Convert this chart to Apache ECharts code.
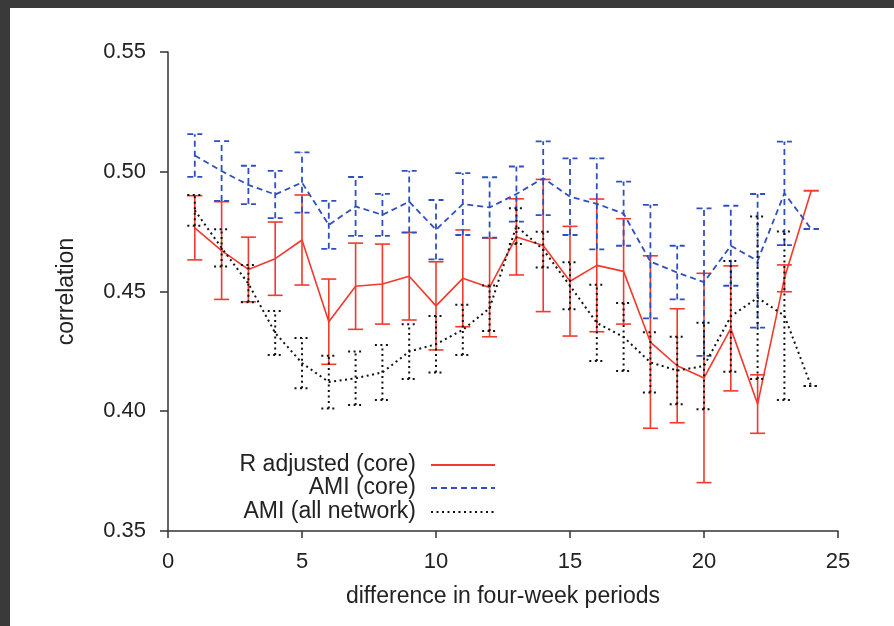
<!DOCTYPE html>
<html>
<head>
<meta charset="utf-8">
<script src="https://cdn.jsdelivr.net/npm/echarts@6/dist/echarts.min.js"></script>
<style>
  html, body { margin: 0; padding: 0; background: #3a3a3a; width: 894px; height: 626px; overflow: hidden; }
  #c { position: absolute; left: 10px; top: 8px; width: 884px; height: 618px; background: #fff; }
</style>
</head>
<body>
<div id="c"></div>
<script>
const periods = [1,2,3,4,5,6,7,8,9,10,11,12,13,14,15,16,17,18,19,20,21,22,23,24];

const rAdjMean = [0.4766,0.4671,0.4592,0.4637,0.4715,0.4374,0.4522,0.4531,0.4564,0.4440,0.4555,0.4517,
                  0.4728,0.4692,0.4543,0.4609,0.4584,0.4289,0.4190,0.4139,0.4346,0.4030,0.4555,0.4921];
const rAdjErr  = [0.0134,0.0204,0.0135,0.0153,0.0188,0.0178,0.0180,0.0167,0.0183,0.0184,0.0202,0.0206,
                  0.0159,0.0276,0.0229,0.0277,0.0220,0.0360,0.0238,0.0437,0.0261,0.0122,0.0056,0.0];

const amiCoreMean = [0.5068,0.5003,0.4945,0.4905,0.4955,0.4778,0.4855,0.4820,0.4875,0.4758,0.4865,0.4851,
                     0.4907,0.4973,0.4896,0.4866,0.4825,0.4625,0.4579,0.4539,0.4691,0.4628,0.4910,0.4761];
const amiCoreErr  = [0.0089,0.0125,0.0080,0.0099,0.0126,0.0100,0.0123,0.0088,0.0129,0.0124,0.0129,0.0126,
                     0.0115,0.0154,0.0160,0.0190,0.0134,0.0237,0.0112,0.0308,0.0167,0.0279,0.0216,0.0];

const amiAllMean = [0.4839,0.4682,0.4533,0.4327,0.4201,0.4122,0.4138,0.4162,0.4249,0.4280,0.4340,0.4430,
                    0.4773,0.4675,0.4524,0.4369,0.4310,0.4204,0.4170,0.4189,0.4396,0.4474,0.4399,0.4105];
const amiAllErr  = [0.0064,0.0078,0.0078,0.0092,0.0105,0.0110,0.0112,0.0115,0.0114,0.0118,0.0105,0.0095,
                    0.0075,0.0075,0.0098,0.0159,0.0142,0.0126,0.0141,0.0181,0.0231,0.0339,0.0352,0.0];

const seriesNames = ['R adjusted (core)', 'AMI (core)', 'AMI (all network)'];
const yTicks = { min: 0.35, max: 0.55, step: 0.05 };
const xTicks = { min: 0, max: 25, step: 5 };

const FONT = '"Liberation Sans", Arial, Helvetica, sans-serif';
const RED = '#f2392c', BLUE = '#2f4fc0', BLACK = '#111111';

function lineData(mean) { return periods.map((p, i) => [p, mean[i]]); }
function errData(mean, err) { return periods.map((p, i) => [p, mean[i] - err[i], mean[i] + err[i]]); }

function errRender(color, dash, width) {
  return function (params, api) {
    const x = api.value(0);
    const lo = api.coord([x, api.value(1)]);
    const hi = api.coord([x, api.value(2)]);
    const hw = 7.5;
    const style = { stroke: color, lineWidth: width, lineDash: dash, fill: null };
    return {
      type: 'group',
      children: [
        { type: 'line', shape: { x1: lo[0], y1: lo[1], x2: hi[0], y2: hi[1] }, style: style },
        { type: 'line', shape: { x1: lo[0] - hw, y1: lo[1], x2: lo[0] + hw, y2: lo[1] }, style: style },
        { type: 'line', shape: { x1: hi[0] - hw, y1: hi[1], x2: hi[0] + hw, y2: hi[1] }, style: style }
      ]
    };
  };
}

const styles = [
  { color: RED, dash: null, width: 1.6, type: 'solid' },
  { color: BLUE, dash: [6, 4], width: 1.8, type: [6, 4] },
  { color: BLACK, dash: [2, 3.5], width: 2, type: [2, 3.5] }
];
const means = [rAdjMean, amiCoreMean, amiAllMean];
const errs = [rAdjErr, amiCoreErr, amiAllErr];

const series = [];
for (let k = 0; k < 3; k++) {
  series.push({
    name: seriesNames[k] + ' err',
    type: 'custom',
    renderItem: errRender(styles[k].color, styles[k].dash, styles[k].width),
    data: errData(means[k], errs[k]),
    encode: { x: 0, y: [1, 2] },
    z: 2 + k,
    silent: true
  });
  series.push({
    name: seriesNames[k],
    type: 'line',
    data: lineData(means[k]),
    symbol: 'none',
    color: styles[k].color,
    lineStyle: { color: styles[k].color, width: styles[k].width, type: styles[k].type },
    z: 2 + k,
    silent: true,
    animation: false
  });
}

const legendCenters = [457, 480, 504];
const legends = seriesNames.map((n, k) => ({
  data: [n],
  orient: 'vertical',
  align: 'right',
  right: 398,
  top: legendCenters[k] - 12,
  padding: 0,
  itemWidth: 64,
  itemHeight: 10,
  selectedMode: false,
  itemStyle: { opacity: 0 },
  textStyle: { fontFamily: FONT, fontSize: 23, color: '#222', lineHeight: 24, padding: [0, 10, 0, 0] }
}));

const chart = echarts.init(document.getElementById('c'), null, { renderer: 'canvas' });
chart.setOption({
  animation: false,
  backgroundColor: '#ffffff',
  grid: { left: 158, top: 44, right: 56, bottom: 95 },
  legend: legends,
  xAxis: {
    type: 'value',
    min: xTicks.min, max: xTicks.max, interval: xTicks.step,
    name: 'difference in four-week periods',
    nameLocation: 'middle',
    nameGap: 54,
    nameTextStyle: { fontFamily: FONT, fontSize: 23, color: '#222' },
    axisLine: { show: true, onZero: false, lineStyle: { color: '#333', width: 1.5 } },
    axisTick: { show: true, inside: false, length: 7, lineStyle: { color: '#333', width: 1.5 } },
    axisLabel: { fontFamily: FONT, fontSize: 22, color: '#222', margin: 20 },
    splitLine: { show: false }
  },
  yAxis: {
    type: 'value',
    min: yTicks.min, max: yTicks.max, interval: yTicks.step,
    name: 'correlation',
    nameLocation: 'middle',
    nameGap: 90,
    nameRotate: 90,
    nameTextStyle: { fontFamily: FONT, fontSize: 23, color: '#222' },
    axisLine: { show: true, onZero: false, lineStyle: { color: '#333', width: 1.5 } },
    axisTick: { show: true, inside: false, length: 8, lineStyle: { color: '#333', width: 1.5 } },
    axisLabel: { fontFamily: FONT, fontSize: 22, color: '#222', margin: 22, formatter: v => v.toFixed(2) },
    splitLine: { show: false }
  },
  series: series
});
</script>
</body>
</html>
